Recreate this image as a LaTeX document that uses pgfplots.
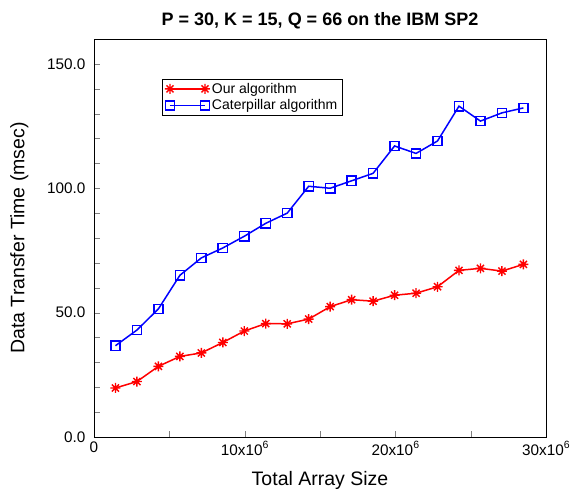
\documentclass[border=0pt]{standalone}
\usepackage{fontspec}
\setmainfont{Liberation Sans}
\usepackage{pgfplots}
\pgfplotsset{compat=1.18}

% eight-armed star like the original plot's marker
\pgfdeclareplotmark{star8}{%
  \pgfpathmoveto{\pgfqpoint{0pt}{\pgfplotmarksize}}\pgfpathlineto{\pgfqpoint{0pt}{-\pgfplotmarksize}}%
  \pgfpathmoveto{\pgfqpoint{\pgfplotmarksize}{0pt}}\pgfpathlineto{\pgfqpoint{-\pgfplotmarksize}{0pt}}%
  \pgfpathmoveto{\pgfqpoint{0.707\pgfplotmarksize}{0.707\pgfplotmarksize}}%
  \pgfpathlineto{\pgfqpoint{-0.707\pgfplotmarksize}{-0.707\pgfplotmarksize}}%
  \pgfpathmoveto{\pgfqpoint{-0.707\pgfplotmarksize}{0.707\pgfplotmarksize}}%
  \pgfpathlineto{\pgfqpoint{0.707\pgfplotmarksize}{-0.707\pgfplotmarksize}}%
  \pgfusepathqstroke}
\newcommand\sups[1]{\raisebox{0.45em}{\fontsize{10.5}{12}\selectfont #1}}

\begin{document}
\begin{tikzpicture}
\begin{axis}[
  scale only axis,
  width=452pt, height=398pt,
  xmin=0, xmax=30, ymin=0, ymax=160,
  xtick={0,10,20,30},
  xticklabels={0,10x10\sups{6},20x10\sups{6},30x10\sups{6}},
  minor xtick={5,15,25},
  ytick={0,50,100,150},
  minor ytick={10,20,30,40,60,70,80,90,110,120,130,140},
  tick pos=left, tick align=inside,
  major tick length=6pt, minor tick length=6pt,
  yticklabel style={/pgf/number format/fixed, /pgf/number format/fixed zerofill,
    /pgf/number format/precision=1, /pgf/number format/assume math mode=true,
    xshift=-5pt},
  xticklabel style={yshift=-1pt},
  ticklabel style={font=\fontsize{15.3}{18}\selectfont},
  title={P = 30, K = 15, Q = 66 on the IBM SP2},
  title style={font=\fontsize{18}{21}\bfseries},
  xlabel={Total Array Size},
  ylabel={Data Transfer Time (msec)},
  label style={font=\fontsize{19.5}{22}\selectfont},
  xlabel shift=9pt, ylabel shift=12pt,
  axis line style={black, line width=0.8pt},
  legend style={at={(0.15,0.9)}, anchor=north west, draw=black, fill=white,
    font=\fontsize{14}{16}\selectfont, inner xsep=3pt, inner ysep=2pt, row sep=1pt},
  legend cell align=left,
  legend image code/.code={\draw[#1] plot coordinates {(0pt,0pt) (35pt,0pt)};},
]
\addplot[color=red, line width=1.5pt, mark=star8, mark size=5pt,
  mark options={line width=1.4pt}] coordinates {
  (1.425,19.7)(2.85,22.3)(4.275,28.4)(5.7,32.4)(7.125,33.8)
  (8.55,38.0)(9.975,42.6)(11.4,45.6)(12.825,45.5)(14.25,47.4)
  (15.675,52.4)(17.1,55.2)(18.525,54.6)(19.95,57.0)(21.375,57.8)
  (22.8,60.4)(24.225,67.0)(25.65,67.8)(27.075,66.7)(28.5,69.4)};
\addlegendentry{Our algorithm}
\addplot[color=blue, line width=1.5pt, mark=square, mark size=4.6pt,
  mark options={line width=1.5pt}] coordinates {
  (1.425,36.7)(2.85,43.0)(4.275,51.5)(5.7,65.0)(7.125,72.0)
  (8.55,76.0)(9.975,80.7)(11.4,85.9)(12.825,90.0)(14.25,100.8)
  (15.675,100.0)(17.1,103.0)(18.525,106.0)(19.95,117.0)(21.375,114.0)
  (22.8,119.0)(24.225,133.0)(25.65,127.0)(27.075,130.3)(28.5,132.3)};
\addlegendentry{Caterpillar algorithm}
\end{axis}
\pgfresetboundingbox
\path (-94pt,-54pt) rectangle (477pt,437pt);
\end{tikzpicture}
\end{document}
